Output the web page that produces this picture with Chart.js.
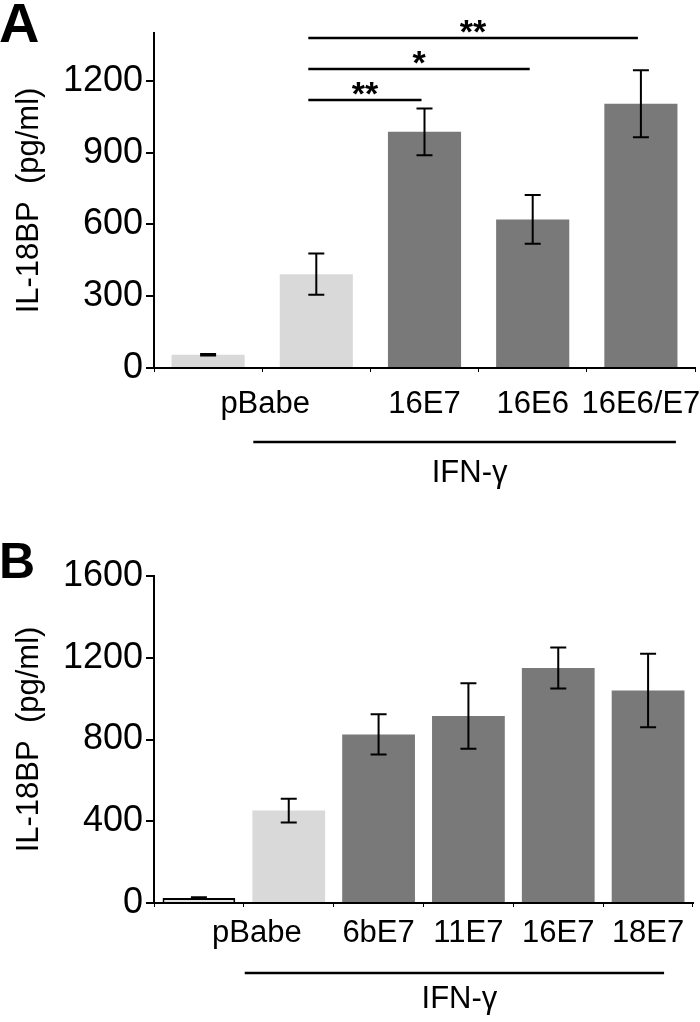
<!DOCTYPE html>
<html>
<head>
<meta charset="utf-8">
<script src="https://cdn.jsdelivr.net/npm/chart.js@4.4.1/dist/chart.umd.min.js"></script>
<style>
  body { margin: 0; background: #fff; }
  #wrap { position: relative; width: 700px; height: 1022px; }
  canvas { position: absolute; left: 0; }
</style>
</head>
<body>
<div id="wrap">
  <canvas id="chartA" width="700" height="500" style="top:0"></canvas>
  <canvas id="chartB" width="700" height="522" style="top:500px"></canvas>
</div>
<script>
// --- data, panel A ---
const categoriesA = ['pBabe', 'pBabe IFN-γ', '16E7', '16E6', '16E6/E7'];
const valuesA = [55, 392, 987, 621, 1104];
const errorsA = [3, 86, 98, 102, 140];
const tickLabelsA = ['pBabe', '16E7', '16E6', '16E6/E7'];
const tickSpansA = [[0, 1], [2, 2], [3, 3], [4, 4]];
const sigPairsA = [[1, 2], [1, 3], [1, 4]];
const sigLevelsA = [1121, 1250, 1379];
const sigStarsA = ['**', '*', '**'];

// --- data, panel B ---
const categoriesB = ['pBabe', 'pBabe IFN-γ', '6bE7', '11E7', '16E7', '18E7'];
const valuesB = [25, 452, 825, 915, 1150, 1040];
const errorsB = [3, 58, 98, 160, 100, 180];
const tickLabelsB = ['pBabe', '6bE7', '11E7', '16E7', '18E7'];
const tickSpansB = [[0, 1], [2, 2], [3, 3], [4, 4], [5, 5]];

const FONT = '"Liberation Sans", Arial, sans-serif';
const LIGHT = '#d9d9d9';
const DARK = '#797979';
Chart.defaults.font.family = FONT;
Chart.defaults.color = '#000';

// error bars, significance brackets, category text, group line
const annotPlugin = {
  id: 'annot',
  afterDatasetsDraw(chart, args, o) {
    const ctx = chart.ctx;
    const ys = chart.scales.y;
    const meta = chart.getDatasetMeta(0);
    const vals = chart.data.datasets[0].data;
    ctx.save();
    ctx.strokeStyle = '#000';
    ctx.fillStyle = '#000';
    ctx.lineWidth = 2;

    // error bars
    o.errors.forEach((e, i) => {
      const cx = meta.data[i].x;
      const yt = ys.getPixelForValue(vals[i] + e);
      const yb = ys.getPixelForValue(vals[i] - e);
      ctx.beginPath();
      ctx.moveTo(cx, yt); ctx.lineTo(cx, yb);
      ctx.moveTo(cx - 8, yt); ctx.lineTo(cx + 8, yt);
      ctx.moveTo(cx - 8, yb); ctx.lineTo(cx + 8, yb);
      ctx.stroke();
    });

    // significance lines
    ctx.lineWidth = 2.6;
    (o.sigPairs || []).forEach((p, k) => {
      const x1 = meta.data[p[0]].x - 8;
      const x2 = meta.data[p[1]].x - 3;
      const ly = Math.round(ys.getPixelForValue(o.sigLevels[k]));
      ctx.beginPath();
      ctx.moveTo(x1, ly); ctx.lineTo(x2, ly);
      ctx.stroke();
      ctx.font = 'bold 34px ' + FONT;
      ctx.textAlign = 'center';
      ctx.textBaseline = 'alphabetic';
      ctx.fillText(o.sigStars[k], (x1 + x2) / 2, ly + 5);
    });

    // category text under axis
    ctx.font = '31px ' + FONT;
    ctx.textAlign = 'center';
    ctx.textBaseline = 'alphabetic';
    const base = chart.chartArea.bottom;
    o.tickLabels.forEach((t, k) => {
      const s = o.tickSpans[k];
      let cx = (meta.data[s[0]].x + meta.data[s[1]].x) / 2;
      if (s[0] !== s[1]) cx += o.firstShift;
      ctx.fillText(t, cx, base + o.labelDy);
    });

    // IFN-γ group line
    const gx1 = meta.data[1].x + o.groupLeft;
    const gx2 = meta.data[meta.data.length - 1].x + o.groupRight;
    const gy = base + o.groupDy;
    ctx.lineWidth = 2.6;
    ctx.beginPath();
    ctx.moveTo(gx1, gy); ctx.lineTo(gx2, gy);
    ctx.stroke();
    ctx.fillText('IFN-γ', (gx1 + gx2) / 2 + o.groupTextShift, base + o.groupTextDy);

    // panel letter
    ctx.font = 'bold ' + o.letterSize + 'px ' + FONT;
    ctx.textAlign = 'left';
    ctx.fillText(o.letter, -1, o.letterY);
    ctx.restore();
  }
};

function makeChart(id, cats, vals, colors, borders, opt) {
  return new Chart(document.getElementById(id), {
    type: 'bar',
    data: {
      labels: cats,
      datasets: [{
        data: vals,
        backgroundColor: colors,
        borderColor: '#000',
        borderWidth: borders,
        barPercentage: opt.barPct,
        categoryPercentage: 1
      }]
    },
    options: {
      responsive: false,
      animation: false,
      layout: { padding: { top: opt.top, right: opt.right, left: 0, bottom: 0 } },
      plugins: {
        legend: { display: false },
        tooltip: { enabled: false },
        annot: opt.annot
      },
      scales: {
        x: {
          offset: true,
          grid: { offset: true, drawOnChartArea: false, tickLength: 4, color: '#000', lineWidth: 1 },
          ticks: { display: false },
          border: { color: '#000', width: 2 },
          afterFit: s => { s.height = opt.xHeight; }
        },
        y: {
          min: 0,
          max: opt.max,
          ticks: {
            stepSize: opt.step,
            font: { size: 36 },
            color: '#000',
            padding: 3,
            callback: v => String(v)
          },
          grid: { drawOnChartArea: false, tickLength: 8, color: '#000', lineWidth: 2 },
          border: { color: '#000', width: 2 },
          title: {
            display: true,
            text: 'IL-18BP  (pg/ml)',
            font: { size: 31 },
            color: '#000',
            padding: { top: 11, bottom: 0 }
          },
          afterFit: s => { s.width = 154; },
          afterBuildTicks: s => { s.ticks = s.ticks.filter(t => t.value % opt.step === 0); }
        }
      }
    },
    plugins: [annotPlugin]
  });
}

makeChart('chartA', categoriesA, valuesA,
  [LIGHT, LIGHT, DARK, DARK, DARK], [0, 0, 0, 0, 0],
  {
    barPct: 0.676, top: 33, right: 5, xHeight: 132, max: 1400, step: 300,
    annot: {
      errors: errorsA, sigPairs: sigPairsA, sigLevels: sigLevelsA, sigStars: sigStarsA,
      tickLabels: tickLabelsA, tickSpans: tickSpansA, firstShift: 3, labelDy: 45,
      groupLeft: -63, groupRight: 35, groupDy: 74, groupTextShift: 5, groupTextDy: 114,
      letter: 'A', letterSize: 56, letterY: 42
    }
  });

makeChart('chartB', categoriesB, valuesB,
  ['#e3e3e3', LIGHT, DARK, DARK, DARK, DARK], [2, 0, 0, 0, 0, 0],
  {
    barPct: 0.81, top: 76, right: 7, xHeight: 119, max: 1600, step: 400,
    annot: {
      errors: errorsB,
      tickLabels: tickLabelsB, tickSpans: tickSpansB, firstShift: 13, labelDy: 39,
      groupLeft: -44, groupRight: 16, groupDy: 70, groupTextShift: 5, groupTextDy: 105,
      letter: 'B', letterSize: 50, letterY: 78
    }
  });
</script>
</body>
</html>
